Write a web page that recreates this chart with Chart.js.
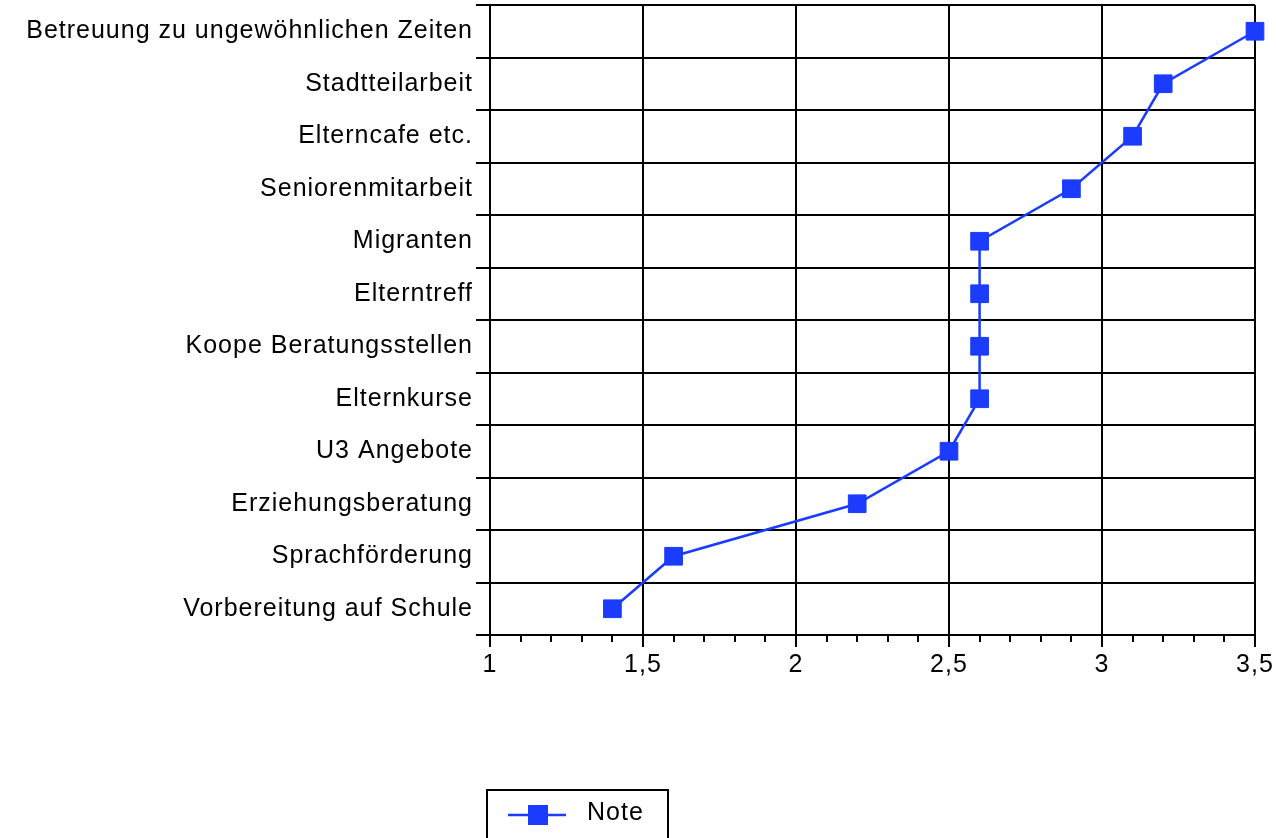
<!DOCTYPE html>
<html>
<head>
<meta charset="utf-8">
<script src="https://cdn.jsdelivr.net/npm/chart.js@4/dist/chart.umd.min.js"></script>
<style>
  html, body { margin: 0; padding: 0; background: #fff; }
  #wrap { position: relative; width: 1276px; height: 838px; }
</style>
</head>
<body>
<div id="wrap"><canvas id="chart"></canvas></div>
<script>
// Kategorien von oben nach unten
var kategorien = [
  "Betreuung zu ungewöhnlichen Zeiten",
  "Stadtteilarbeit",
  "Elterncafe etc.",
  "Seniorenmitarbeit",
  "Migranten",
  "Elterntreff",
  "Koope Beratungsstellen",
  "Elternkurse",
  "U3 Angebote",
  "Erziehungsberatung",
  "Sprachförderung",
  "Vorbereitung auf Schule"
];
var noten = [3.5, 3.2, 3.1, 2.9, 2.6, 2.6, 2.6, 2.6, 2.5, 2.2, 1.6, 1.4];
var serieName = "Note";
var xMin = 1, xMax = 3.5, xStep = 0.5, xMinorStep = 0.1;

var BLAU = "#1b3bff";
var FONT = "'Liberation Sans', Arial, Helvetica, sans-serif";
var SPACING = "1px";

// etwas weitere Laufweite wie im Original (Canvas setzt das bei jedem Resize zurück)
var spacing = {
  id: "spacing",
  beforeUpdate: function(chart) { chart.ctx.letterSpacing = SPACING; },
  beforeDraw:   function(chart) { chart.ctx.letterSpacing = SPACING; }
};

// kleine Zwischenstriche an der x-Achse
var minorTicks = {
  id: "minorTicks",
  afterDraw: function(chart) {
    var sx = chart.scales.x, ctx = chart.ctx, bottom = chart.chartArea.bottom;
    ctx.save();
    ctx.strokeStyle = "#000";
    ctx.lineWidth = 2;
    var n = Math.round((xMax - xMin) / xMinorStep);
    for (var i = 1; i < n; i++) {
      if (i % 5 === 0) continue;
      var px = Math.round(sx.getPixelForValue(xMin + i * xMinorStep));
      ctx.beginPath();
      ctx.moveTo(px, bottom);
      ctx.lineTo(px, bottom + 7);
      ctx.stroke();
    }
    ctx.restore();
  }
};

// Legende mit Rahmen wie im Original
var boxLegend = {
  id: "boxLegend",
  afterDraw: function(chart) {
    var ctx = chart.ctx, left = chart.chartArea.left - 3;
    var top = 790, ds = chart.data.datasets[0];
    ctx.save();
    ctx.strokeStyle = "#000";
    ctx.lineWidth = 2;
    ctx.strokeRect(left, top, 181, 70);
    var cy = top + 25;
    ctx.strokeStyle = ds.borderColor;
    ctx.lineWidth = 2.5;
    ctx.beginPath();
    ctx.moveTo(left + 21, cy);
    ctx.lineTo(left + 79, cy);
    ctx.stroke();
    ctx.fillStyle = ds.pointBackgroundColor;
    ctx.fillRect(left + 41, cy - 10, 20, 20);
    ctx.fillStyle = "#000";
    ctx.font = "25px " + FONT;
    ctx.textBaseline = "middle";
    ctx.textAlign = "left";
    ctx.fillText(ds.label, left + 100, cy - 2);
    ctx.restore();
  }
};

new Chart(document.getElementById("chart"), {
  type: "line",
  data: {
    labels: kategorien,
    datasets: [{
      label: serieName,
      data: noten,
      borderColor: BLAU,
      backgroundColor: BLAU,
      pointBackgroundColor: BLAU,
      pointBorderColor: BLAU,
      pointBorderWidth: 1,
      pointStyle: "rect",
      pointRadius: 12.5,
      borderWidth: 2.5,
      tension: 0,
      clip: false
    }]
  },
  options: {
    indexAxis: "y",
    responsive: true,
    maintainAspectRatio: false,
    animation: false,
    events: [],
    layout: { autoPadding: false, padding: { top: 5, right: 21, left: 0, bottom: 0 } },
    plugins: {
      legend: { display: false },
      tooltip: { enabled: false }
    },
    scales: {
      x: {
        type: "linear",
        position: "bottom",
        min: xMin, max: xMax,
        border: { display: true, color: "#000", width: 2 },
        grid: { color: "#000", lineWidth: 2, tickLength: 12, tickColor: "#000" },
        ticks: {
          stepSize: xStep,
          color: "#000",
          padding: 3,
          maxRotation: 0,
          font: { family: FONT, size: 25 },
          callback: function(v) { return String(v).replace(".", ","); }
        },
        afterFit: function(scale) { scale.height = 203; scale.paddingRight = 0; scale.paddingLeft = 0; }
      },
      y: {
        type: "category",
        offset: true,
        border: { display: true, color: "#000", width: 2 },
        grid: { offset: true, color: "#000", lineWidth: 2, tickLength: 14, tickColor: "#000" },
        ticks: {
          color: "#000",
          padding: 3,
          autoSkip: false,
          font: { family: FONT, size: 25 }
        },
        afterFit: function(scale) { scale.width = 490; scale.paddingTop = 0; scale.paddingBottom = 0; }
      }
    }
  },
  plugins: [spacing, minorTicks, boxLegend]
});
</script>
</body>
</html>
